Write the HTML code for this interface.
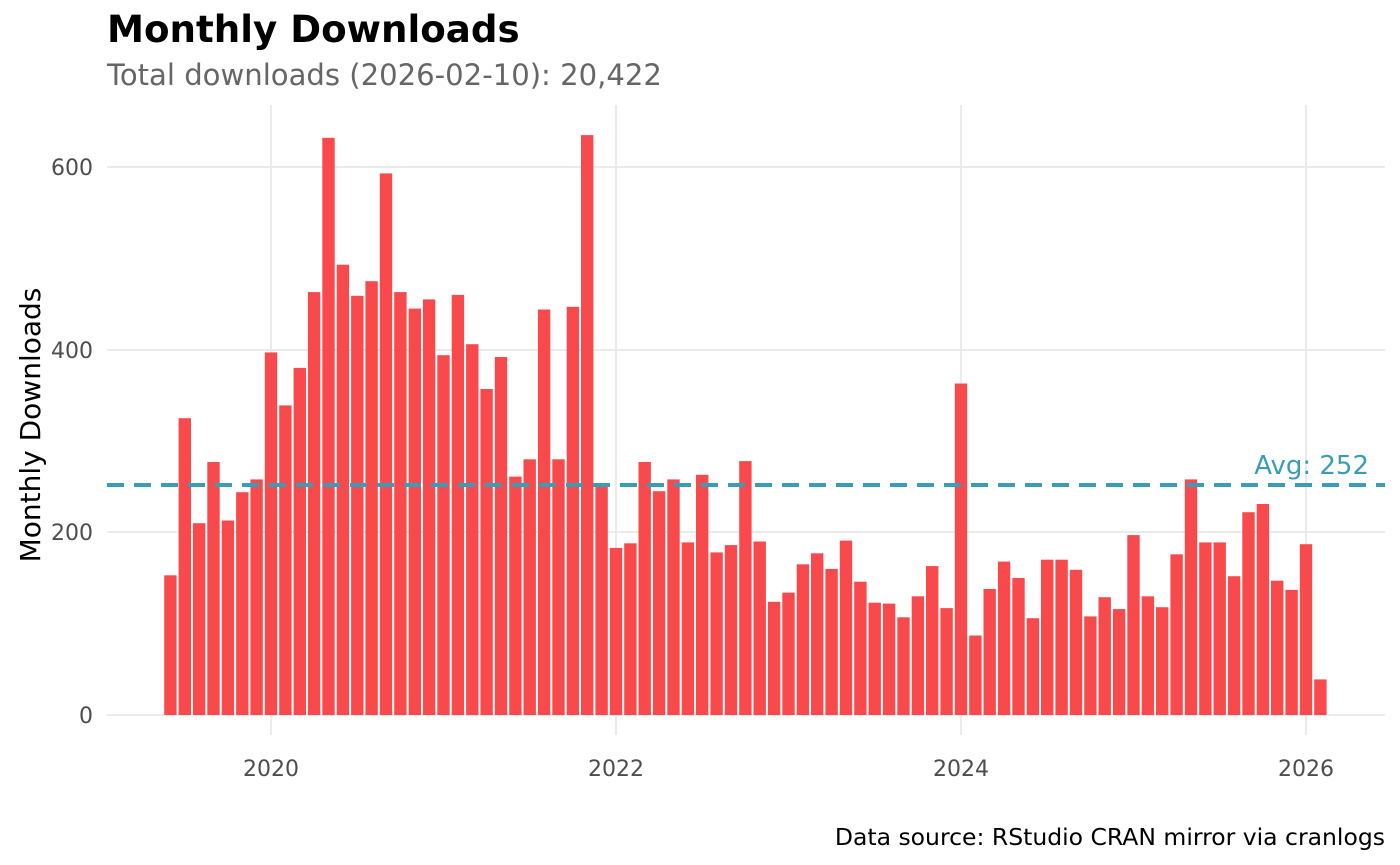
<!DOCTYPE html><html><head><meta charset="utf-8"><style>body{margin:0;background:#fff}svg{display:block;font-family:"DejaVu Sans","Liberation Sans",sans-serif}</style></head><body>
<svg id="s" width="1400" height="865" xmlns="http://www.w3.org/2000/svg">
<text x="107" y="42" font-size="37.2" font-weight="bold" fill="#000">Monthly Downloads</text>
<text x="107" y="85" font-size="29.1" fill="#666">Total downloads (2026-02-10): 20,422</text>
<g stroke="#ebebeb" stroke-width="2">
<line x1="107" x2="1385" y1="715" y2="715"/><line x1="107" x2="1385" y1="532" y2="532"/><line x1="107" x2="1385" y1="350" y2="350"/><line x1="107" x2="1385" y1="167" y2="167"/>
<line x1="271" x2="271" y1="105" y2="735"/><line x1="616" x2="616" y1="105" y2="735"/><line x1="961" x2="961" y1="105" y2="735"/><line x1="1306" x2="1306" y1="105" y2="735"/>
</g>
<g id="bars" fill="#f84a4c"></g>
<line x1="107" x2="1385" y1="485" y2="485" stroke="#3a9db8" stroke-width="4" stroke-dasharray="17,10"/>
<text x="1369" y="474" font-size="26" fill="#3a9db8" text-anchor="end">Avg: 252</text>
<g font-size="22" fill="#4d4d4d" text-anchor="end">
<text x="93" y="723">0</text><text x="93" y="540">200</text><text x="93" y="358">400</text><text x="93" y="175">600</text></g>
<g font-size="22" fill="#4d4d4d" text-anchor="middle">
<text x="271" y="776">2020</text><text x="616" y="776">2022</text><text x="961" y="776">2024</text><text x="1306" y="776">2026</text></g>
<text transform="translate(40,425) rotate(-90)" font-size="28" fill="#000" text-anchor="middle">Monthly Downloads</text>
<text x="1385" y="845" font-size="23.5" fill="#000" text-anchor="end">Data source: RStudio CRAN mirror via cranlogs</text>
</svg>
<script>
var v=[153,325,210,277,213,244,258,397,339,380,463,632,493,459,475,593,463,445,455,394,460,406,357,392,261,280,444,280,447,635,250,183,188,277,245,258,189,263,178,186,278,190,124,134,165,177,160,191,146,123,122,107,130,163,117,363,87,138,168,150,106,170,170,159,108,129,116,197,130,118,176,258,189,189,152,222,231,147,137,187,39];
var g=document.getElementById('bars'),h='';
for(var i=0;i<v.length;i++){var cx=271+(i-7)*14.375,y=715-v[i]*0.9133;h+='<rect x="'+(cx-6.2).toFixed(1)+'" y="'+y.toFixed(1)+'" width="12.4" height="'+(715-y).toFixed(1)+'"/>';}
g.innerHTML=h;
</script>
</body></html>
